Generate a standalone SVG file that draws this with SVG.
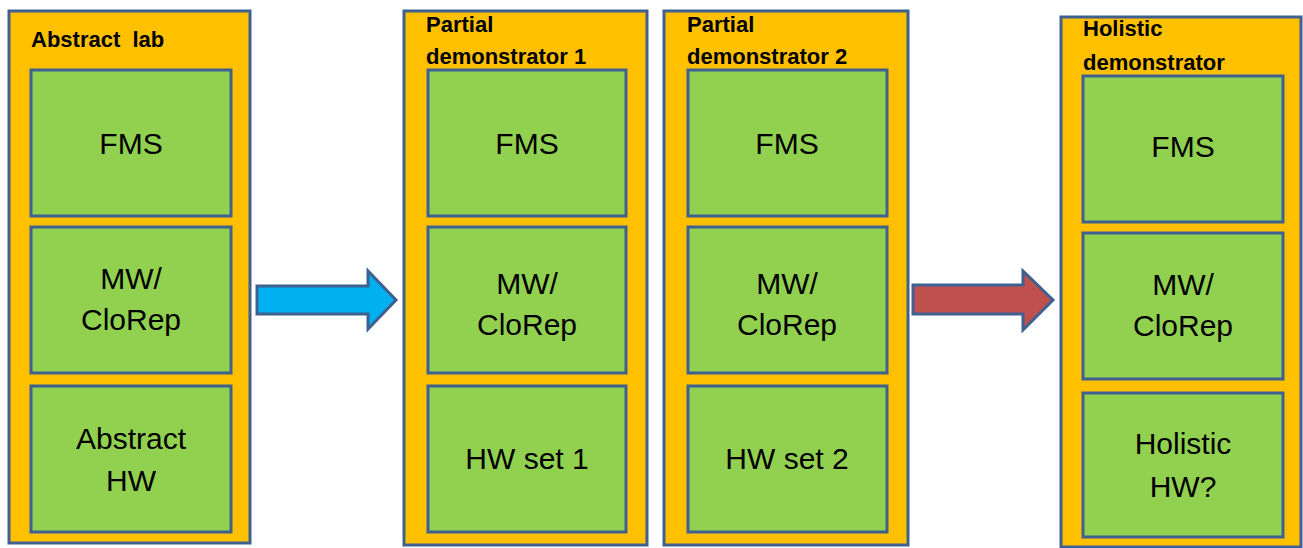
<svg xmlns="http://www.w3.org/2000/svg" width="1303" height="548" viewBox="0 0 1303 548">
<style>
.outer{fill:#FFC000;stroke:#3E6192;stroke-width:3}
.inner{fill:#92D050;stroke:#3E6192;stroke-width:3}
.arrow{stroke:#3E6192;stroke-width:3;stroke-linejoin:miter}
.title{font-family:"Liberation Sans",Arial,sans-serif;font-weight:bold;font-size:22px;fill:#000}
.lbl{font-family:"Liberation Sans",Arial,sans-serif;font-size:30px;fill:#000;text-anchor:middle}
</style>
<rect width="1303" height="548" fill="#fff"/>
<g id="abstract-lab">
<rect class="outer" x="9" y="11" width="241" height="532"/>
<text class="title" x="31" y="47">Abstract&#160; lab</text>
<g id="al-fms"><rect class="inner" x="31" y="70" width="200" height="146"/><text class="lbl" x="131" y="154">FMS</text></g>
<g id="al-mw"><rect class="inner" x="31" y="227" width="200" height="146"/><text class="lbl" x="131" y="289">MW/</text><text class="lbl" x="131" y="330">CloRep</text></g>
<g id="al-hw"><rect class="inner" x="31" y="386" width="200" height="146"/><text class="lbl" x="131" y="449">Abstract</text><text class="lbl" x="131" y="491">HW</text></g>
</g>
<g id="partial-1">
<rect class="outer" x="404" y="11" width="243" height="534"/>
<text class="title" x="426" y="32">Partial</text>
<text class="title" x="426" y="64">demonstrator 1</text>
<g id="p1-fms"><rect class="inner" x="428" y="70" width="198" height="146"/><text class="lbl" x="527" y="154">FMS</text></g>
<g id="p1-mw"><rect class="inner" x="428" y="227" width="198" height="146"/><text class="lbl" x="527" y="294">MW/</text><text class="lbl" x="527" y="335">CloRep</text></g>
<g id="p1-hw"><rect class="inner" x="428" y="386" width="198" height="146"/><text class="lbl" x="527" y="469">HW set 1</text></g>
</g>
<g id="partial-2">
<rect class="outer" x="664" y="11" width="244" height="534"/>
<text class="title" x="687" y="32">Partial</text>
<text class="title" x="687" y="64">demonstrator 2</text>
<g id="p2-fms"><rect class="inner" x="688" y="70" width="199" height="146"/><text class="lbl" x="787" y="154">FMS</text></g>
<g id="p2-mw"><rect class="inner" x="688" y="227" width="199" height="146"/><text class="lbl" x="787" y="294">MW/</text><text class="lbl" x="787" y="335">CloRep</text></g>
<g id="p2-hw"><rect class="inner" x="688" y="386" width="199" height="146"/><text class="lbl" x="787" y="469">HW set 2</text></g>
</g>
<g id="holistic">
<rect class="outer" x="1061" y="17" width="240" height="530"/>
<text class="title" x="1083" y="36">Holistic</text>
<text class="title" x="1083" y="70">demonstrator</text>
<g id="h-fms"><rect class="inner" x="1083" y="76" width="200" height="146"/><text class="lbl" x="1183" y="157">FMS</text></g>
<g id="h-mw"><rect class="inner" x="1083" y="233" width="200" height="146"/><text class="lbl" x="1183" y="295">MW/</text><text class="lbl" x="1183" y="336">CloRep</text></g>
<g id="h-hw"><rect class="inner" x="1083" y="393" width="200" height="144"/><text class="lbl" x="1183" y="454">Holistic</text><text class="lbl" x="1183" y="497">HW?</text></g>
</g>
<g id="connectors">
<polygon class="arrow" fill="#00B0F0" points="257,286 368,286 368,271 396,300 368,329 368,314 257,314"/>
<polygon class="arrow" fill="#C0504D" points="913,285 1023,285 1023,271 1053,300 1023,330 1023,314 913,314"/>
</g>
</svg>
